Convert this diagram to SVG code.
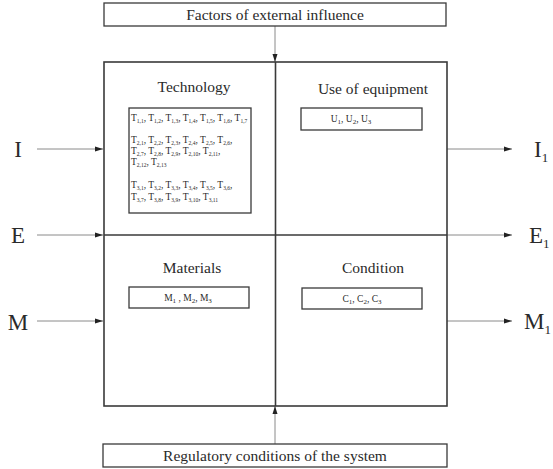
<svg xmlns="http://www.w3.org/2000/svg" width="553" height="469" viewBox="0 0 553 469">
<defs>
<style>
text{font-family:"Liberation Serif","Times New Roman",serif;fill:#2a2a2a}
.box{fill:#fff;stroke:#3a3a3a;stroke-width:1.3}
.main{fill:none;stroke:#3a3a3a;stroke-width:1.6}
.arr{stroke:#8a8a8a;stroke-width:1;fill:none;marker-end:url(#ah)}
.head{font-size:15.5px;text-anchor:middle}
.lbl{font-size:23px}
.t{font-size:9.5px}
.s{font-size:5.5px}
.small{font-size:9.5px;text-anchor:middle}
.ls{font-size:7px}
.sub{font-size:13px}
</style>
<marker id="ah" viewBox="0 0 8 6" refX="8" refY="3" markerWidth="8" markerHeight="6" markerUnits="userSpaceOnUse" orient="auto">
<path d="M0,0.5 L8,3 L0,5.5 z" fill="#222"/>
</marker>
</defs>

<g id="connectors">
<line class="arr" x1="275" y1="26" x2="275" y2="62"/>
<line class="arr" x1="275" y1="444" x2="275" y2="406"/>
<line class="arr" x1="37" y1="149" x2="103" y2="149"/>
<line class="arr" x1="37" y1="235" x2="103" y2="235"/>
<line class="arr" x1="37" y1="321" x2="103" y2="321"/>
<line class="arr" x1="447" y1="149" x2="512" y2="149"/>
<line class="arr" x1="447" y1="235" x2="512" y2="235"/>
<line class="arr" x1="447" y1="321" x2="512" y2="321"/>
</g>

<g id="external">
<rect class="box" x="104" y="3" width="342" height="23"/>
<text class="head" x="275" y="20">Factors of external influence</text>
</g>

<g id="regulatory">
<rect class="box" x="103" y="444" width="344" height="23"/>
<text class="head" x="275" y="461">Regulatory conditions of the system</text>
</g>

<g id="system">
<rect class="main" x="104" y="62" width="343" height="344"/>
<line class="main" x1="275.5" y1="62" x2="275.5" y2="406"/>
<line class="main" x1="104" y1="235" x2="447" y2="235"/>
</g>

<g id="technology">
<text class="head" x="194" y="92">Technology</text>
<rect class="box" x="129" y="108" width="122" height="105"/>
<text class="t" x="131" y="121">T<tspan class="s" dy="2">1,1</tspan><tspan dy="-2">, T</tspan><tspan class="s" dy="2">1,2</tspan><tspan dy="-2">, T</tspan><tspan class="s" dy="2">1,3</tspan><tspan dy="-2">, T</tspan><tspan class="s" dy="2">1,4</tspan><tspan dy="-2">, T</tspan><tspan class="s" dy="2">1,5</tspan><tspan dy="-2">, T</tspan><tspan class="s" dy="2">1,6</tspan><tspan dy="-2">, T</tspan><tspan class="s" dy="2">1,7</tspan></text>
<text class="t" x="131" y="143">T<tspan class="s" dy="2">2,1</tspan><tspan dy="-2">, T</tspan><tspan class="s" dy="2">2,2</tspan><tspan dy="-2">, T</tspan><tspan class="s" dy="2">2,3</tspan><tspan dy="-2">, T</tspan><tspan class="s" dy="2">2,4</tspan><tspan dy="-2">, T</tspan><tspan class="s" dy="2">2,5</tspan><tspan dy="-2">, T</tspan><tspan class="s" dy="2">2,6</tspan><tspan dy="-2">,</tspan></text>
<text class="t" x="131" y="154">T<tspan class="s" dy="2">2,7</tspan><tspan dy="-2">, T</tspan><tspan class="s" dy="2">2,8</tspan><tspan dy="-2">, T</tspan><tspan class="s" dy="2">2,9</tspan><tspan dy="-2">, T</tspan><tspan class="s" dy="2">2,10</tspan><tspan dy="-2">, T</tspan><tspan class="s" dy="2">2,11</tspan><tspan dy="-2">,</tspan></text>
<text class="t" x="131" y="165">T<tspan class="s" dy="2">2,12</tspan><tspan dy="-2">, T</tspan><tspan class="s" dy="2">2,13</tspan></text>
<text class="t" x="131" y="188">T<tspan class="s" dy="2">3,1</tspan><tspan dy="-2">, T</tspan><tspan class="s" dy="2">3,2</tspan><tspan dy="-2">, T</tspan><tspan class="s" dy="2">3,3</tspan><tspan dy="-2">, T</tspan><tspan class="s" dy="2">3,4</tspan><tspan dy="-2">, T</tspan><tspan class="s" dy="2">3,5</tspan><tspan dy="-2">, T</tspan><tspan class="s" dy="2">3,6</tspan><tspan dy="-2">,</tspan></text>
<text class="t" x="131" y="200">T<tspan class="s" dy="2">3,7</tspan><tspan dy="-2">, T</tspan><tspan class="s" dy="2">3,8</tspan><tspan dy="-2">, T</tspan><tspan class="s" dy="2">3,9</tspan><tspan dy="-2">, T</tspan><tspan class="s" dy="2">3,10</tspan><tspan dy="-2">, T</tspan><tspan class="s" dy="2">3,11</tspan></text>
</g>

<g id="equipment">
<text class="head" x="373" y="94">Use of equipment</text>
<rect class="box" x="301" y="108" width="121" height="22"/>
<text class="small" x="351" y="122">U<tspan class="ls" dy="1.5">1</tspan><tspan dy="-1.5">, U</tspan><tspan class="ls" dy="1.5">2</tspan><tspan dy="-1.5">, U</tspan><tspan class="ls" dy="1.5">3</tspan></text>
</g>

<g id="materials">
<text class="head" x="192" y="273">Materials</text>
<rect class="box" x="129" y="287" width="120" height="21"/>
<text class="small" x="188" y="301">M<tspan class="ls" dy="1.5">1</tspan><tspan dy="-1.5"> , M</tspan><tspan class="ls" dy="1.5">2</tspan><tspan dy="-1.5">, M</tspan><tspan class="ls" dy="1.5">3</tspan></text>
</g>

<g id="condition">
<text class="head" x="373" y="273">Condition</text>
<rect class="box" x="302" y="288" width="120" height="21"/>
<text class="small" x="362" y="302">C<tspan class="ls" dy="1.5">1</tspan><tspan dy="-1.5">, C</tspan><tspan class="ls" dy="1.5">2</tspan><tspan dy="-1.5">, C</tspan><tspan class="ls" dy="1.5">3</tspan></text>
</g>

<g id="inputs">
<text class="lbl" x="18" y="157" text-anchor="middle">I</text>
<text class="lbl" x="18" y="243" text-anchor="middle">E</text>
<text class="lbl" x="18" y="330" text-anchor="middle">M</text>
</g>

<g id="outputs">
<text class="lbl" x="534" y="157">I<tspan class="sub" dy="5">1</tspan></text>
<text class="lbl" x="529" y="243">E<tspan class="sub" dy="5">1</tspan></text>
<text class="lbl" x="524" y="329">M<tspan class="sub" dy="5">1</tspan></text>
</g>
</svg>
